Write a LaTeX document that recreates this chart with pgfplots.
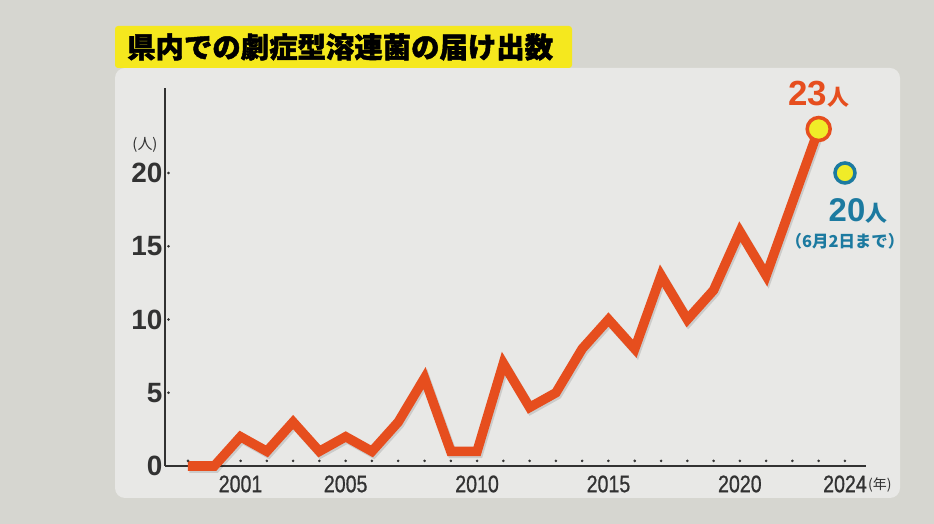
\documentclass[border=0pt]{standalone}
\usepackage{fontspec}
\usepackage{pgfplots}
\pgfplotsset{compat=1.18}
\setmainfont{Liberation Sans}
\newfontfamily\jp{Noto Sans CJK JP}
\newfontfamily\jpheavy{Noto Sans CJK JP}[FakeBold=1.6]
\newfontfamily\cond{Liberation Sans}[FakeStretch=0.82, FakeBold=0.8]
\definecolor{outerbg}{RGB}{214,214,208}
\definecolor{panelbg}{RGB}{232,232,230}
\definecolor{ttlyellow}{RGB}{245,232,30}
\definecolor{lineor}{RGB}{230,78,30}
\definecolor{dotyel}{RGB}{240,236,40}
\definecolor{tealc}{RGB}{28,122,160}
\definecolor{axisc}{RGB}{50,50,50}
\begin{document}
\begin{tikzpicture}
\fill[outerbg] (0,0) rectangle (934bp,524bp);
\fill[panelbg, rounded corners=10bp] (115bp,26bp) rectangle (900bp,456bp);
\fill[ttlyellow, rounded corners=3bp] (115bp,456bp) rectangle (572bp,498bp);
\node[anchor=west, inner sep=0pt] at (127bp,477bp) {\jpheavy\bfseries\fontsize{28.5}{30}\selectfont 県内での劇症型溶連菌の届け出数};
\begin{axis}[
  at={(165bp,58bp)}, anchor=south west,
  scale only axis, width=701bp, height=378bp,
  xmin=1998.125, xmax=2024.8, ymin=0, ymax=25.8,
  axis x line=bottom, axis y line=left,
  axis line style={-, line width=1.5bp, color=axisc},
  xtick={2001,2005,2010,2015,2020,2024},
  xticklabels={2001,2005,2010,2015,2020,2024},
  ytick={0,5,10,15,20},
  major tick length=0pt,
  /pgf/number format/assume math mode=true,
  xticklabel style={font=\cond\fontsize{24}{24}\selectfont, color=axisc, yshift=-6bp},
  yticklabel style={font=\bfseries\fontsize{28}{28}\selectfont, color=axisc, xshift=1bp},
  clip=false,
]
% year dots
\addplot[only marks, mark=*, mark size=1.1bp, color=axisc] coordinates {
(1999,0.35)(2001,0.35)(2002,0.35)(2003,0.35)(2004,0.35)(2005,0.35)(2006,0.35)(2007,0.35)(2008,0.35)(2009,0.35)(2010,0.35)(2011,0.35)(2012,0.35)(2013,0.35)(2014,0.35)(2015,0.35)(2016,0.35)(2017,0.35)(2018,0.35)(2019,0.35)(2020,0.35)(2021,0.35)(2022,0.35)(2023,0.35)(2024,0.35)};
% y tick dots
\addplot[only marks, mark=*, mark size=1.1bp, color=axisc] coordinates {
(1998.26,5)(1998.26,10)(1998.26,15)(1998.26,20)};
% shadow
\addplot[line width=9.5bp, color=black, opacity=0.12, line join=miter, miter limit=2.5, shift={(1.5bp,-2bp)}] coordinates {
(1999,0)(2000,0)(2001,2)(2002,1)(2003,3)(2004,1)(2005,2)(2006,1)(2007,3)(2008,6)(2009,1)(2010,1)(2011,7)(2012,4)(2013,5)(2014,8)(2015,10)(2016,8)(2017,13)(2018,10)(2019,12)(2020,16)(2021,13)(2022,18)(2023,23)};
% main line
\addplot[line width=9.5bp, color=lineor, line join=miter, miter limit=2.5] coordinates {
(1999,0)(2000,0)(2001,2)(2002,1)(2003,3)(2004,1)(2005,2)(2006,1)(2007,3)(2008,6)(2009,1)(2010,1)(2011,7)(2012,4)(2013,5)(2014,8)(2015,10)(2016,8)(2017,13)(2018,10)(2019,12)(2020,16)(2021,13)(2022,18)(2023,23)};
\addplot[only marks, mark=*, mark size=11.5bp, mark options={fill=dotyel, draw=lineor, line width=3.5bp}] coordinates {(2023,23)};
\addplot[only marks, mark=*, mark size=10bp, mark options={fill=dotyel, draw=tealc, line width=3.5bp}] coordinates {(2024,20)};
\node[color=lineor, inner sep=0pt] at (axis cs:2023,23) [yshift=35bp] {\bfseries\fontsize{35}{35}\selectfont 23{\jp\bfseries\fontsize{22}{22}\selectfont 人}};
\node[color=tealc, inner sep=0pt] at (axis cs:2024,20) [xshift=13bp, yshift=-38bp] {\bfseries\fontsize{33}{33}\selectfont 20{\jp\bfseries\fontsize{22}{22}\selectfont 人}};
\node[color=tealc, inner sep=0pt] at (axis cs:2024,20) [xshift=0bp, yshift=-68bp] {\jp\bfseries\fontsize{16.5}{17}\selectfont （6月2日まで）};
\node[color=axisc, inner sep=0pt, anchor=west] at (axis cs:2024,0) [xshift=23bp, yshift=-19bp] {\jp\fontsize{14}{14}\selectfont (年)};
\node[color=axisc, inner sep=0pt] at (axis cs:1998.125,20) [xshift=-20bp, yshift=28bp] {\jp\fontsize{15}{15}\selectfont (人)};
\end{axis}
\end{tikzpicture}
\end{document}
